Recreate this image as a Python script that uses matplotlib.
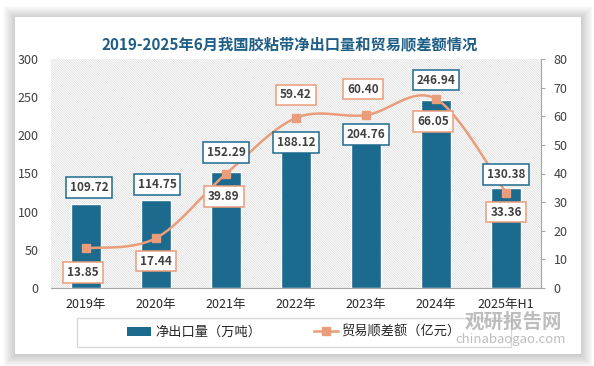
import matplotlib
matplotlib.use('Agg')
import matplotlib.pyplot as plt
from matplotlib.patches import Rectangle
from matplotlib.lines import Line2D
import numpy as np

plt.rcParams['font.family'] = ['Noto Sans CJK SC', 'DejaVu Sans']
plt.rcParams['hatch.linewidth'] = 0.5

title = '2019-2025年6月我国胶粘带净出口量和贸易顺差额情况'
categories = ['2019年', '2020年', '2021年', '2022年', '2023年', '2024年', '2025年H1']
net_export = [109.72, 114.75, 152.29, 188.12, 204.76, 246.94, 130.38]
trade_surplus = [13.85, 17.44, 39.89, 59.42, 60.40, 66.05, 33.36]
left_ticks = [0, 50, 100, 150, 200, 250, 300]
right_ticks = [0, 10, 20, 30, 40, 50, 60, 70, 80]
legend_labels = ['净出口量（万吨）', '贸易顺差额（亿元）']

# label offsets in pixels (dx, dy) -- layout only
bar_label_off = [(3, 17), (1, 16), (0, 19), (0, 2), (0, -3), (0, 19.5), (0, 14)]
line_label_off = [(-3, -24), (0, -23), (-2, -22.5), (0, 23), (-3, 26), (-3, -22.5), (0, -19.5)]

BAR_C = '#1d6a8f'
LINE_C = '#e99d7a'
TXT_C = '#404040'

W, H = 594, 366
fig = plt.figure(figsize=(W / 100, H / 100), dpi=100)


def fx(px):
    return px / W


def fy(py):
    return 1 - py / H


# card shadow + card
for i in range(12, 0, -1):
    fig.patches.append(Rectangle((fx(15 - i), fy(354 + i + 1)), (566 + 2 * i) / W, (337 + 2 * i) / H,
                                 transform=fig.transFigure, facecolor='black', alpha=0.014,
                                 edgecolor='none', zorder=-3))
fig.patches.append(Rectangle((fx(15), fy(354)), 566 / W, 337 / H, transform=fig.transFigure,
                             facecolor='white', edgecolor='none', zorder=-2))

ax = fig.add_axes([fx(51), fy(288), (541 - 51) / W, (288 - 59) / H])
ax.patch.set_facecolor('white')
ax.add_patch(Rectangle((0, 0), 1, 1, transform=ax.transAxes, facecolor='none',
                       edgecolor='#d9d9d9', hatch='\\' * 14, linewidth=0, zorder=0))
x = np.arange(len(categories))
ax.bar(x, net_export, width=0.43, color=BAR_C, edgecolor='white', linewidth=1, zorder=3)
ax.set_xlim(-0.5, len(categories) - 0.5)
ax.set_ylim(0, 300)
ax.set_yticks(left_ticks)
ax.set_xticks(x)
ax.set_xticklabels(categories)
for s in ['left', 'top', 'right']:
    ax.spines[s].set_visible(False)
ax.spines['bottom'].set_color('#a6a6a6')
ax.tick_params(axis='y', length=0, pad=9, labelsize=9, labelcolor=TXT_C)
ax.tick_params(axis='x', length=0, pad=7, labelsize=9, labelcolor='#262626')

ax2 = ax.twinx()
ax2.set_ylim(0, 80)
ax2.set_yticks(right_ticks)
ax2.patch.set_visible(False)
for s in ['left', 'top', 'bottom']:
    ax2.spines[s].set_visible(False)
ax2.spines['right'].set_color('#a6a6a6')
ax2.tick_params(axis='y', length=3, width=0.8, color='#a6a6a6', pad=6, labelsize=9, labelcolor=TXT_C)

# smoothed line (Catmull-Rom rendering in display space)
pts = ax2.transData.transform(np.column_stack([x, trade_surplus]))
curve = []
n = len(pts)
for i in range(n - 1):
    p0 = pts[i - 1] if i > 0 else pts[i]
    p1 = pts[i]
    p2 = pts[i + 1]
    p3 = pts[i + 2] if i + 2 < n else pts[i + 1]
    c1 = p1 + (p2 - p0) / 6
    c2 = p2 - (p3 - p1) / 6
    t = np.linspace(0, 1, 30)[:, None]
    seg = (1 - t) ** 3 * p1 + 3 * (1 - t) ** 2 * t * c1 + 3 * (1 - t) * t ** 2 * c2 + t ** 3 * p2
    curve.append(seg if i == 0 else seg[1:])
curve = ax2.transData.inverted().transform(np.vstack(curve))
ax2.plot(curve[:, 0], curve[:, 1], color=LINE_C, lw=1.8, zorder=4, solid_capstyle='round')
ax2.plot(x, trade_surplus, 's', ms=6, color=LINE_C, ls='none', zorder=5)

PX = 0.72
for i, v in enumerate(net_export):
    dx, dy = bar_label_off[i]
    ax2.annotate(f'{v:.2f}', xy=(x[i], v), xycoords=ax.transData,
                 xytext=(dx * PX, dy * PX), textcoords='offset points',
                 ha='center', va='center', fontsize=8.5, weight='bold', color=TXT_C, zorder=6,
                 bbox=dict(boxstyle='square,pad=0.32', fc='white', ec=BAR_C, lw=1.1))
for i, v in enumerate(trade_surplus):
    dx, dy = line_label_off[i]
    ax2.annotate(f'{v:.2f}', xy=(x[i], v), xycoords=ax2.transData,
                 xytext=(dx * PX, dy * PX), textcoords='offset points',
                 ha='center', va='center', fontsize=8.5, weight='bold', color=TXT_C, zorder=7,
                 bbox=dict(boxstyle='square,pad=0.32', fc='white', ec=LINE_C, lw=1.1))

fig.text(fx(290), fy(45), title, ha='center', va='center', fontsize=11, weight='bold', color='#1f5f87')

# legend
fig.patches.append(Rectangle((fx(77), fy(347)), (511 - 77) / W, (347 - 318) / H, transform=fig.transFigure,
                             facecolor='none', edgecolor='#d9d9d9', lw=1, zorder=1))
handles = [Rectangle((0, 0), 1, 1, facecolor=BAR_C, edgecolor='none'),
           Line2D([0], [0], color=LINE_C, lw=1.8, marker='s', ms=6)]
fig.legend(handles, legend_labels, loc='center', bbox_to_anchor=(fx(294), fy(332.5)), ncol=2,
           frameon=False, fontsize=9.5, handlelength=1.8, columnspacing=4, handletextpad=0.3,
           labelcolor='#262626')

# watermark
fig.text(fx(513), fy(322), '观研报告网', ha='center', va='center', fontsize=14, weight='bold',
         color='#a8a8a8', alpha=0.75)
fig.text(fx(511), fy(340), 'chinabaogao.com', ha='center', va='center', fontsize=9.5,
         color='#a8a8a8', alpha=0.75)

fig.savefig('out.png', dpi=100)
